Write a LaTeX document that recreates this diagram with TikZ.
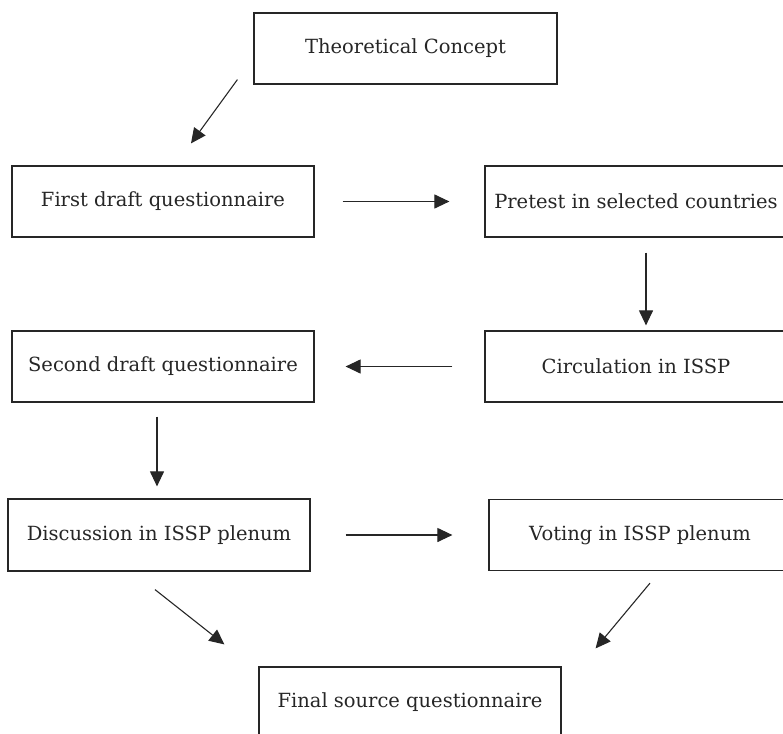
\documentclass[tikz,border=0pt]{standalone}
\usepackage{fontspec}
\setmainfont{DejaVu Serif}
\usetikzlibrary{arrows.meta}
\begin{document}
\begin{tikzpicture}[x=1pt,y=-1pt,
  box/.style={draw=black!85,line width=1.2pt,minimum width=302pt,minimum height=71pt,inner sep=0pt,
    text=black!85,font=\fontsize{19.5}{23}\selectfont},
  conn/.style={draw=black!85,line width=1.1pt,-{Triangle[length=15pt,width=14pt]}}]
\useasboundingbox (0,0) rectangle (783,733);
\clip (0,0) rectangle (783,733);
\node[box,minimum width=303pt] (TC) at (405.5,48.5) {Theoretical Concept};
\node[box] (FD) at (163,201.5) {First draft questionnaire};
\node[box] (PT) at (636,201.5) {Pretest in selected countries};
\node[box] (CI) at (636,366.5) {Circulation in ISSP};
\node[box] (SD) at (163,366.5) {Second draft questionnaire};
\node[box,minimum height=72pt] (DI) at (159,535) {Discussion in ISSP plenum};
\node[box] (VO) at (640,535) {Voting in ISSP plenum};
\node[box] (FS) at (410,702.5) {Final source questionnaire};
\draw[conn] ([xshift=-16pt,yshift=5pt]TC.south west) -- ([xshift=28pt,yshift=22pt]FD.north);
\draw[conn] ([xshift=28pt]FD.east) -- ([xshift=-35pt]PT.west);
\draw[conn] ([xshift=10pt,yshift=-15pt]PT.south) -- ([xshift=10pt,yshift=5pt]CI.north);
\draw[conn] ([xshift=-32pt]CI.west) -- ([xshift=31pt]SD.east);
\draw[conn] ([xshift=-6pt,yshift=-14pt]SD.south) -- ([xshift=-2pt,yshift=12pt]DI.north);
\draw[conn] ([xshift=35pt]DI.east) -- ([xshift=-36pt]VO.west);
\draw[conn] ([xshift=-4pt,yshift=-18pt]DI.south) -- ([xshift=-34pt,yshift=22pt]FS.north west);
\draw[conn] ([xshift=10pt,yshift=-12pt]VO.south) -- ([xshift=34pt,yshift=18pt]FS.north east);
\end{tikzpicture}
\end{document}
